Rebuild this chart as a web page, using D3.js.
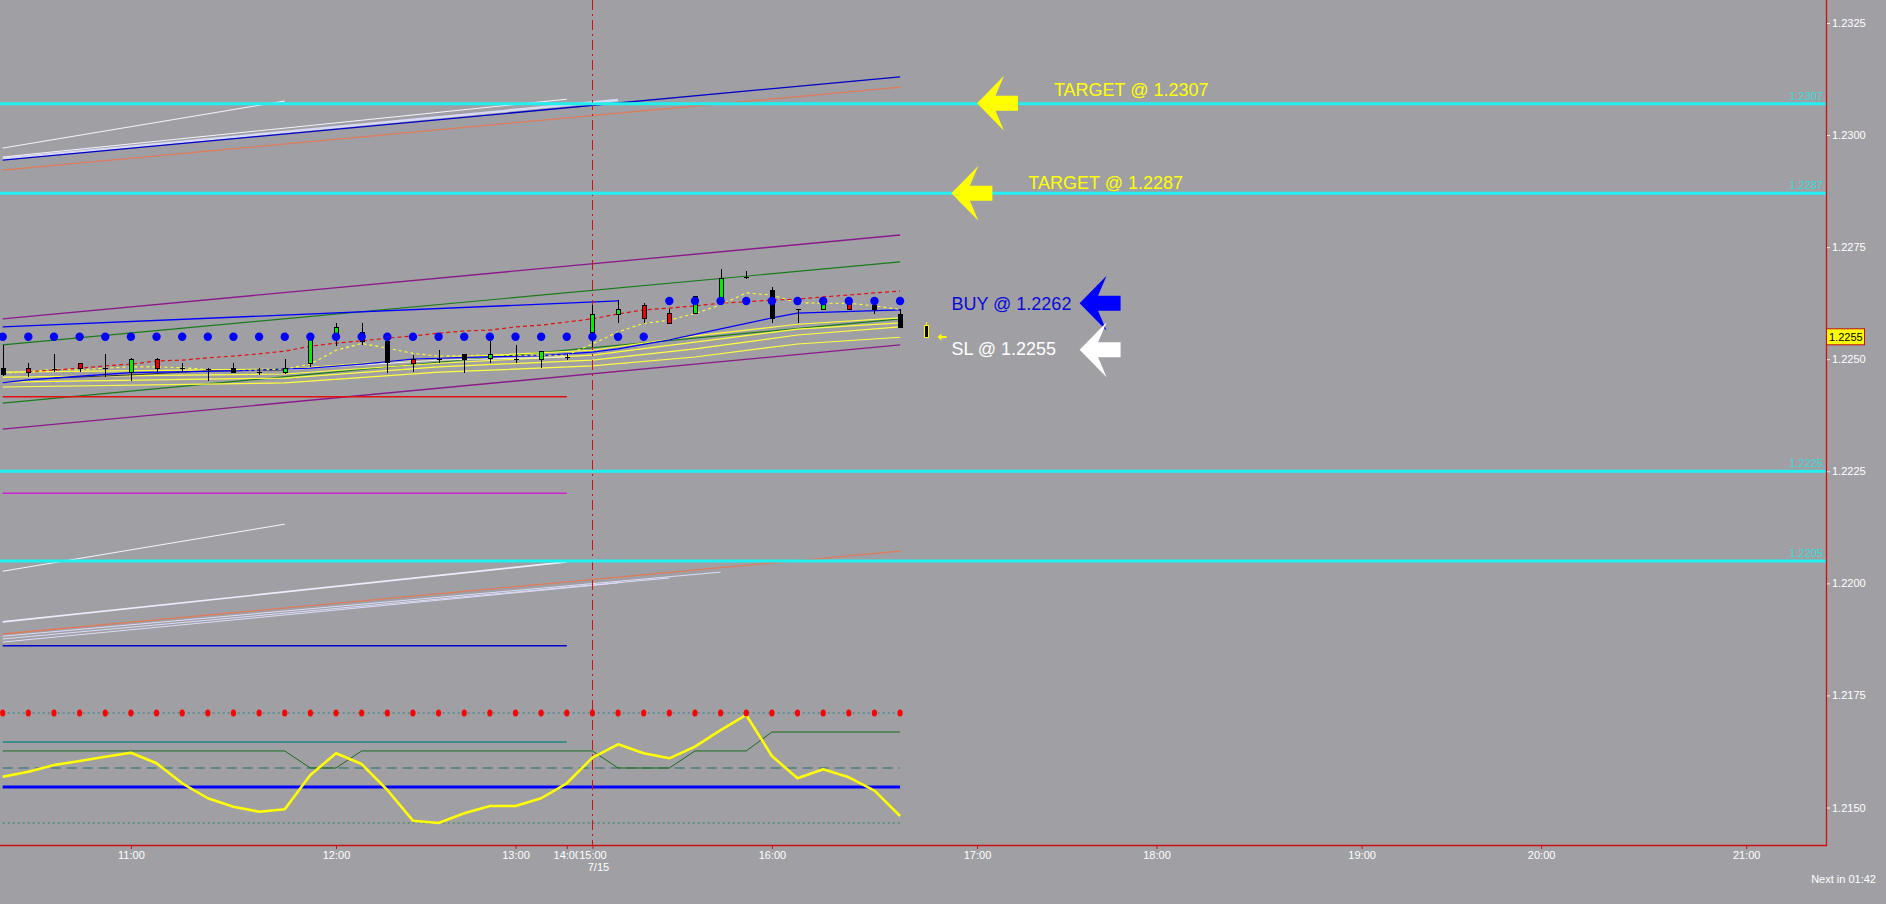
<!DOCTYPE html>
<html><head><meta charset="utf-8">
<script src="https://cdn.jsdelivr.net/npm/d3@7"></script>
<style>
html,body{margin:0;padding:0;background:#a0a0a4;overflow:hidden}
svg{display:block}
text{font-family:"Liberation Sans",Arial,sans-serif}
</style></head>
<body><svg id="c" width="1886" height="904"></svg>
<script>
// ---------------- DATA ----------------
const timeTickBars   = [5, 13, 20, 22, 23, 30, 38, 45, 53, 60, 68];
const timeTickLabels = ["11:00","12:00","13:00","14:00","15:00","16:00","17:00","18:00","19:00","20:00","21:00"];
const dateLabel = "7/15";
const priceTicks = [1.2150, 1.2175, 1.2200, 1.2225, 1.2250, 1.2275, 1.2300, 1.2325];
const levelPrices = [1.2307, 1.2287, 1.2225, 1.2205];
const currentPrice = 1.2255;
const countdownText = "Next in 01:42";

// candles (bar index 0..35)
const openP  = [1.22480,1.22480,1.22478,1.22491,1.22480,1.22471,1.22500,1.22480,1.22478,1.22480,1.22471,1.22471,
                1.22491,1.22554,1.22561,1.22541,1.22500,1.22500,1.22512,1.22502,1.22500,1.22502,1.22505,1.22561,
                1.22601,1.22621,1.22603,1.22601,1.22632,1.22683,1.22655,1.22612,1.22612,1.22625,1.22621,1.22601];
const highP  = [1.22532,1.22491,1.22512,1.22491,1.22512,1.22503,1.22503,1.22491,1.22480,1.22491,1.22480,1.22500,
                1.22558,1.22581,1.22581,1.22543,1.22509,1.22520,1.22512,1.22541,1.22532,1.22519,1.22512,1.22621,
                1.22632,1.22625,1.22612,1.22641,1.22701,1.22697,1.22660,1.22612,1.22630,1.22630,1.22621,1.22612];
const lowP   = [1.22463,1.22460,1.22471,1.22471,1.22460,1.22451,1.22471,1.22471,1.22451,1.22471,1.22464,1.22467,
                1.22483,1.22530,1.22532,1.22470,1.22471,1.22491,1.22470,1.22491,1.22491,1.22480,1.22498,1.22527,
                1.22581,1.22581,1.22581,1.22601,1.22632,1.22679,1.22581,1.22581,1.22612,1.22612,1.22601,1.22572];
const closeP = [1.22467,1.22471,1.22478,1.22480,1.22480,1.22500,1.22480,1.22480,1.22478,1.22472,1.22471,1.22480,
                1.22545,1.22572,1.22541,1.22494,1.22491,1.22500,1.22500,1.22512,1.22500,1.22519,1.22505,1.22601,
                1.22612,1.22592,1.22581,1.22640,1.22681,1.22683,1.22592,1.22612,1.22625,1.22612,1.22612,1.22572];
const candleKind = ["k","r","k","r","k","g","r","k","k","k","k","g",
                    "g","g","r","k","r","k","k","g","r","g","k","g",
                    "g","r","r","g","g","k","k","k","g","r","k","k"];
// forming bar
const liveBar = {bar:36, open:1.22576, high:1.22583, low:1.22549, close:1.22549};

// dots indicator
const dotPrice = [1.22550,1.22550,1.22550,1.22550,1.22550,1.22550,1.22550,1.22550,1.22550,1.22550,1.22550,1.22550,
                  1.22550,1.22550,1.22550,1.22550,1.22550,1.22550,1.22550,1.22550,1.22550,1.22550,1.22550,1.22550,
                  1.22550,1.22550,1.22630,1.22630,1.22630,1.22630,1.22630,1.22630,1.22630,1.22630,1.22630,1.22630];

// moving averages
const redDashedMA = [null,1.22472,1.22476,1.22480,1.22485,1.22489,1.22496,1.22498,1.22503,1.22507,1.22512,1.22518,
                     1.22529,1.22536,1.22541,1.22547,1.22552,1.22558,1.22563,1.22565,1.22572,1.22576,1.22583,1.22590,
                     1.22601,1.22610,1.22614,1.22619,1.22625,1.22628,1.22632,1.22634,1.22639,1.22643,1.22648,1.22652];
const yellowDashedMA = [1.22469,1.22472,1.22478,1.22476,1.22480,1.22483,1.22483,1.22481,1.22477,1.22477,1.22476,1.22478,
                        1.22489,1.22520,1.22535,1.22525,1.22513,1.22507,1.22508,1.22509,1.22509,1.22509,1.22509,1.22534,
                        1.22561,1.22580,1.22587,1.22602,1.22621,1.22648,1.22643,1.22626,1.22625,1.22625,1.22619,1.22611];
const yellowMA1 = [[0,1.22471],[11,1.22478],[17,1.22503],[23,1.22520],[27,1.22552],[31,1.22578],[35,1.22592]];
const yellowMA2 = [[0,1.22460],[11,1.22467],[17,1.22491],[23,1.22509],[27,1.22538],[31,1.22567],[35,1.22581]];
const yellowMA3 = [[0,1.22449],[11,1.22458],[17,1.22483],[23,1.22498],[27,1.22523],[31,1.22554],[35,1.22572]];
const yellowMA4 = [[0,1.22438],[11,1.22447],[17,1.22471],[23,1.22485],[27,1.22505],[31,1.22534],[35,1.22549]];
const blueMA = [[0,1.22448],[1,1.22454],[3,1.22462],[5,1.22470],[9,1.22474],[12,1.22480],[14,1.22489],[16,1.22500],
                [18,1.22504],[21,1.22508],[23,1.22516],[24,1.22523],[26,1.22543],[30,1.22592],[31,1.22603],[35,1.22610]];
const darkMA  = [[2,1.22458],[5,1.22465],[8,1.22474],[11,1.22476]];
const whiteMA = [[11,1.22476],[12,1.22480],[17,1.22498],[22,1.22505]];

// trend lines / levels  [bar, price]
const channelTop    = [[0,1.22590],[35,1.22777]];
const channelBottom = [[0,1.22344],[35,1.22532]];
const greenUpper    = [[0,1.22532],[35,1.22717]];
const greenLower    = [[0,1.22402],[35,1.22590]];
const blueUpper     = [[0,1.22572],[24,1.22630]];
const redLevel      = [[0,1.22416],[22,1.22416]];
const magentaLevel  = [[0,1.22201],[22,1.22201]];
const blueLevel     = [[0,1.21861],[22,1.21861]];
const hiBlue        = [[0,1.22944],[35,1.23130]];
const hiSalmon      = [[0,1.22922],[35,1.23107]];
const hiWhiteA      = [[0,1.22971],[11,1.23076]];
const hiWhiteB      = [[0,1.22951],[22,1.23080]];
const hiLavender    = [[0,1.22947],[24,1.23078]];
const loWhiteA      = [[0,1.22027],[11,1.22132]];
const loWhiteB      = [[0,1.21914],[22,1.22048]];
const loSalmon      = [[0,1.21887],[35,1.22072]];
const loLav1        = [[0,1.21882],[28,1.22025]];
const loLav2        = [[0,1.21876],[26,1.22012]];
const loLav3        = [[0,1.21869],[24,1.22001]];

// oscillator (0..100)
const oscValues = [42.1,46.6,52.7,56.4,60.3,63.9,54.3,36.1,22.5,14.8,10.3,12.5,
                   43.6,63.4,53.6,30.0,2.1,0,8.8,15.5,15.5,22.5,36.1,59.4,
                   71.5,63.4,58.8,69.4,84.5,98.2,60.9,40.6,48.8,41.5,29.4,6.4];
const oscSignal = [65.5,65.5,65.5,65.5,65.5,65.5,65.5,65.5,65.5,65.5,65.5,65.5,
                   50,50,65.5,65.5,65.5,65.5,65.5,65.5,65.5,65.5,65.5,65.5,
                   50,50,50,65.5,65.5,65.5,82.7,82.7,82.7,82.7,82.7,82.7];
const oscTeal  = [[0,73.6],[22,73.6]];
const oscBlue  = [[0,32.7],[35,32.7]];
const oscUpper = 100, oscMid = 50, oscLower = 0;

// annotations
const annText       = ["TARGET @ 1.2307","TARGET @ 1.2287","BUY @ 1.2262","SL @ 1.2255"];
const annTextBar    = [41, 40, 37, 37];
const annTextPrice  = [1.23101, 1.22893, 1.22623, 1.22523];
const annArrowBar   = [38, 37, 42, 42];
const annArrowPrice = [1.23071, 1.22870, 1.22625, 1.22521];

// ---------------- DRAW ----------------
const BG = "#a0a0a4";
const svg = d3.select("#c");
const plotRight = 1826, axisY = 845;
const x  = d3.scaleLinear().domain([0, 70]).range([2.7, 2.7 + 70 * 25.64]);
const y  = d3.scaleLinear().domain([1.2150, 1.2325]).range([807.5, 23]);
const yo = d3.scaleLinear().domain([0, 100]).range([823, 713]);
const bars = d3.range(36);

svg.append("rect").attr("width", 1886).attr("height", 904).attr("fill", BG);
svg.append("defs").append("clipPath").attr("id", "plot")
  .append("rect").attr("x", 0).attr("y", 0).attr("width", plotRight).attr("height", axisY);
const g = svg.append("g").attr("clip-path", "url(#plot)");

const pl = d3.line().x(d => x(d[0])).y(d => y(d[1]));
const ol = d3.line().x(d => x(d[0])).y(d => yo(d[1]));
function path(data, color, w, dash, gen) {
  const p = g.append("path").attr("d", (gen || pl)(data)).attr("fill", "none")
    .attr("stroke", color).attr("stroke-width", w);
  if (dash) p.attr("stroke-dasharray", dash);
  return p;
}
const series = arr => arr.map((v, i) => [i, v]).filter(d => d[1] !== null);

// upper & lower projected channels
path(hiLavender, "#d8d8f8", 2.5);
path(hiWhiteB, "#f4f4ff", 1);
path(hiWhiteA, "#f4f4ff", 1);
path(hiSalmon, "#e07a5a", 1.3);
path(hiBlue, "#0000c8", 1.3);
path(loLav3, "#dcdcfa", 1);
path(loLav2, "#dcdcfa", 1);
path(loLav1, "#dcdcfa", 1);
path(loWhiteB, "#ececff", 1.6);
path(loWhiteA, "#f4f4ff", 1);
path(loSalmon, "#e07a5a", 1.3);
path(magentaLevel, "#cc22cc", 1.5);
path(blueLevel, "#0000d0", 1.5);

// main channel
path(channelTop, "#8a1a8a", 1.4);
path(channelBottom, "#8a1a8a", 1.4);
path(greenUpper, "#1a7a1a", 1.2);
path(greenLower, "#1a7a1a", 1.2);
path(redLevel, "#e01010", 1.5);
path(blueUpper, "#0000ff", 1.3);

// moving averages
[yellowMA4, yellowMA3, yellowMA2, yellowMA1].forEach(m => path(m, "#ffff40", 1.2));
path(darkMA, "#303030", 1);
path(whiteMA, "#f0f0f0", 1);
path(blueMA, "#0000ff", 1.3);
path(series(yellowDashedMA), "#ffff30", 1.1, "3,3");
path(series(redDashedMA), "#e01010", 1.2, "4,3");

// oscillator
path([[0, oscUpper], [35, oscUpper]], "#208080", 1, "2,3", ol);
path([[0, oscLower], [35, oscLower]], "#208060", 1, "2,3", ol);
path([[0, oscMid], [35, oscMid]], "#207070", 1.2, "10,6", ol);
path(oscTeal, "#208585", 1.6, null, ol);
path(series(oscSignal), "#1a6a1a", 1, null, ol);
path(oscBlue, "#0000ff", 3, null, ol);
path(series(oscValues), "#ffff00", 2.6, null, ol).attr("stroke-linejoin", "round");
g.selectAll(".od").data(bars).join("ellipse")
  .attr("cx", i => x(i)).attr("cy", yo(oscUpper)).attr("rx", 2.6).attr("ry", 3.6).attr("fill", "#ff0000");

// vertical session separator
g.append("line").attr("x1", Math.round(x(23)) + 0.5).attr("x2", Math.round(x(23)) + 0.5)
  .attr("y1", 0).attr("y2", axisY).attr("stroke", "#d01010").attr("stroke-width", 1)
  .attr("stroke-dasharray", "10,4,2,4");

// candles
const fillOf = {g: "#00ee00", r: "#ee0000", k: "#000000"};
const cg = g.append("g").attr("shape-rendering", "crispEdges");
bars.forEach(i => {
  const cx = Math.round(x(i)) + 0.5;
  cg.append("line").attr("x1", cx).attr("x2", cx).attr("y1", y(highP[i])).attr("y2", y(lowP[i]))
    .attr("stroke", "#000").attr("stroke-width", 1);
  const top = y(Math.max(openP[i], closeP[i])), bot = y(Math.min(openP[i], closeP[i]));
  if (bot - top < 1.5) {
    cg.append("line").attr("x1", cx - 2.5).attr("x2", cx + 2.5).attr("y1", Math.round(top) + 0.5).attr("y2", Math.round(top) + 0.5)
      .attr("stroke", "#000").attr("stroke-width", 1);
  } else {
    cg.append("rect").attr("x", cx - 2).attr("width", 4).attr("y", Math.round(top) + 0.5)
      .attr("height", Math.round(bot - top)).attr("fill", fillOf[candleKind[i]]).attr("stroke", "#000");
  }
});
// forming bar
{
  const cx = Math.round(x(liveBar.bar)) + 0.5;
  cg.append("line").attr("x1", cx).attr("x2", cx).attr("y1", y(liveBar.high)).attr("y2", y(liveBar.low))
    .attr("stroke", "#ffff00");
  cg.append("rect").attr("x", cx - 2).attr("width", 4).attr("y", Math.round(y(liveBar.open)) + 0.5)
    .attr("height", Math.round(y(liveBar.close) - y(liveBar.open))).attr("fill", "#000").attr("stroke", "#ffff00");
  const ay = Math.round(y(liveBar.close));
  g.append("path").attr("d", `M${cx + 11},${ay} l4,-3.5 v2.5 h5 v2 h-5 v2.5 z`).attr("fill", "#ffff00");
}

// dots
g.selectAll(".bd").data(bars).join("circle")
  .attr("cx", i => x(i)).attr("cy", i => y(dotPrice[i])).attr("r", 4.2).attr("fill", "#0000ff");

// horizontal levels
levelPrices.forEach(p => {
  g.append("line").attr("x1", 0).attr("x2", plotRight).attr("y1", y(p)).attr("y2", y(p))
    .attr("stroke", "#22f0f0").attr("stroke-width", 3);
  svg.append("text").attr("x", plotRight - 3).attr("y", y(p) - 4).attr("text-anchor", "end")
    .attr("font-size", 11).attr("fill", "#38dada").text(p.toFixed(4));
});

// annotations
const annFill = ["#ffff00", "#ffff00", "#0000ff", "#ffffff"];
const annTextFill = ["#ffff00", "#ffff00", "#0a0ad8", "#ffffff"];
const arrowShape = [[0,0],[27,-27.5],[18.5,-7.5],[41,-7.5],[41,7.5],[18.5,7.5],[27,27.5]];
annText.forEach((t, k) => {
  const ax = x(annArrowBar[k]), ay = y(annArrowPrice[k]);
  g.append("polygon").attr("points", arrowShape.map(p => [ax + p[0], ay + p[1]].join(",")).join(" "))
    .attr("fill", annFill[k]);
  g.append("text").attr("x", x(annTextBar[k])).attr("y", y(annTextPrice[k]))
    .attr("dominant-baseline", "central").attr("font-size", 18).attr("fill", annTextFill[k]).text(t);
});

// axes frame
svg.append("line").attr("x1", plotRight + 0.5).attr("x2", plotRight + 0.5).attr("y1", 0).attr("y2", axisY + 1)
  .attr("stroke", "#cc1010").attr("stroke-width", 1.3);
svg.append("line").attr("x1", 0).attr("x2", plotRight + 1).attr("y1", axisY + 0.5).attr("y2", axisY + 0.5)
  .attr("stroke", "#cc1010").attr("stroke-width", 1.6);

const ra = svg.append("g").attr("transform", `translate(${plotRight + 1},0)`)
  .call(d3.axisRight(y).tickValues(priceTicks).tickSize(3).tickPadding(2).tickFormat(d3.format(".4f")));
ra.select(".domain").remove();
ra.selectAll("line").attr("stroke", "#f0f0f0");
ra.selectAll("text").attr("fill", "#ffffff").attr("font-size", 11).attr("font-family", "Liberation Sans, Arial, sans-serif");

const ba = svg.append("g").attr("transform", `translate(0,${axisY + 1})`)
  .call(d3.axisBottom(x).tickValues(timeTickBars).tickSize(3).tickPadding(2).tickFormat((d, i) => timeTickLabels[i]));
ba.select(".domain").remove();
ba.selectAll("line").attr("stroke", "#cc1010");
ba.selectAll("text").attr("fill", "#ffffff").attr("font-size", 11).attr("font-family", "Liberation Sans, Arial, sans-serif");
// later label overlaps the earlier one
ba.selectAll(".tick").filter(d => d === 23).each(function () {
  const t = d3.select(this).select("text");
  const bb = t.node().getBBox();
  d3.select(this).insert("rect", "text").attr("x", bb.x - 1).attr("y", bb.y).attr("width", bb.width + 2)
    .attr("height", bb.height).attr("fill", BG);
});
svg.append("text").attr("x", x(23) + 6).attr("y", 871).attr("text-anchor", "middle")
  .attr("font-size", 11).attr("fill", "#ffffff").text(dateLabel);

// current price tag
svg.append("rect").attr("x", plotRight + 0.5).attr("y", y(currentPrice) - 8).attr("width", 38).attr("height", 16)
  .attr("fill", "#ffff00").attr("stroke", "#c01010").attr("stroke-width", 1);
svg.append("text").attr("x", plotRight + 3).attr("y", y(currentPrice) + 4).attr("font-size", 11)
  .attr("fill", "#000").text(currentPrice.toFixed(4));

svg.append("text").attr("x", 1876).attr("y", 883).attr("text-anchor", "end").attr("font-size", 11)
  .attr("fill", "#ffffff").text(countdownText);
</script>
</body></html>
